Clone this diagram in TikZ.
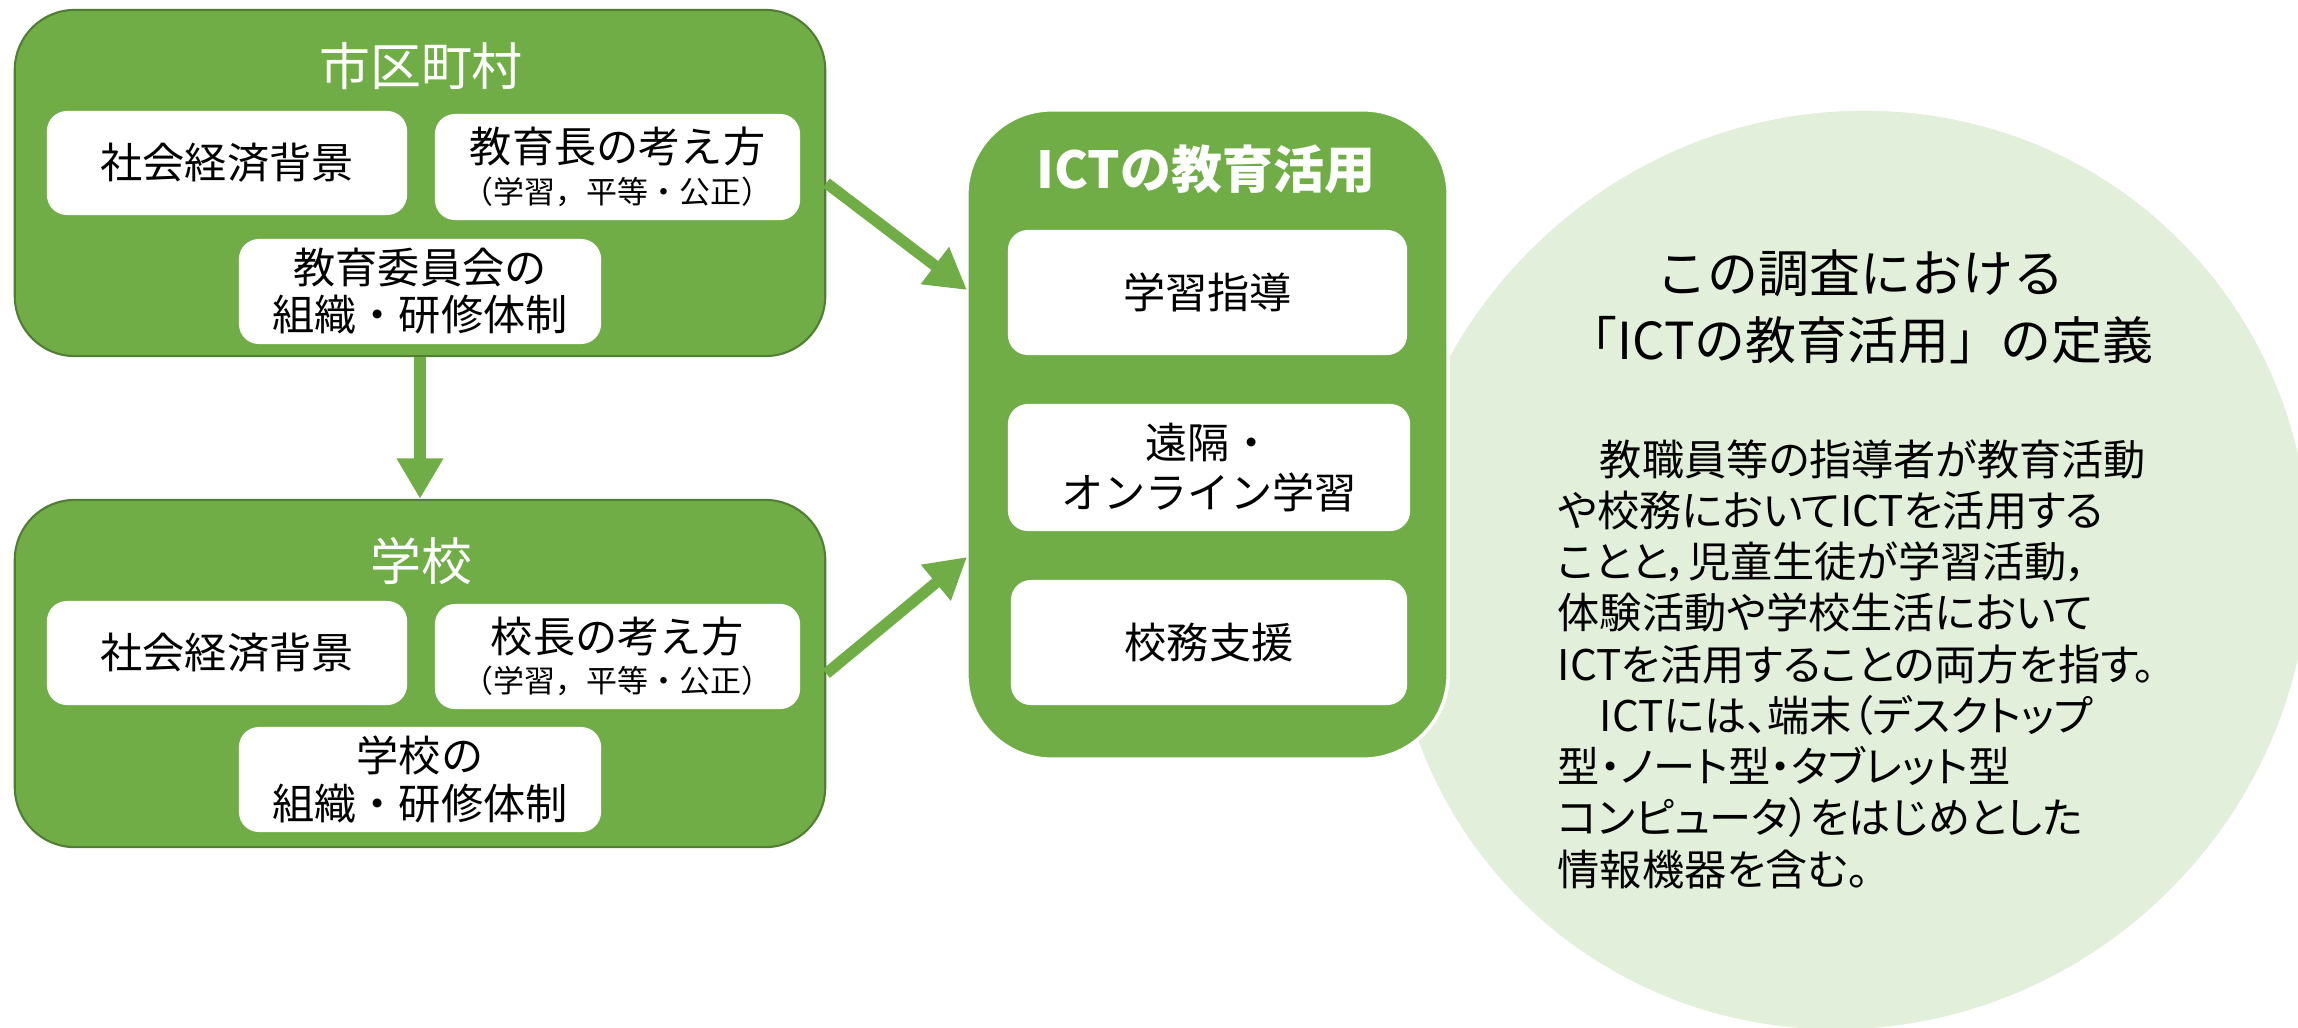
\documentclass[tikz,border=0pt]{standalone}
\usepackage{fontspec}
\setmainfont{Noto Sans CJK JP}
\newfontfamily\mypaltfont{Noto Sans CJK JP}[RawFeature=+palt]
\usetikzlibrary{arrows.meta}
\definecolor{ggreen}{HTML}{70AD47}
\definecolor{gborder}{HTML}{507E32}
\definecolor{ellfill}{HTML}{E2EFDA}
\newcommand\myboxfont{\fontsize{12pt}{13.5pt}\selectfont}
\newcommand\mytitlefont{\fontsize{14.5pt}{17pt}\selectfont}
\newcommand\myparenfont{\fontsize{8.8pt}{11pt}\selectfont}
\tikzset{
  outerbox/.style={draw=gborder, line width=0.6pt, fill=ggreen, rounded corners=0.6cm, inner sep=0pt},
  ictbox/.style={draw=white, line width=1pt, fill=ggreen, rounded corners=0.85cm, inner sep=0pt},
  whitebox/.style={fill=white, rounded corners=0.2cm, inner sep=0pt, align=center, font=\myboxfont},
  titletext/.style={text=white, font=\mytitlefont, inner sep=0pt},
  bigarrow/.style={draw=ggreen, line width=3.2pt, -{Triangle[length=11.5pt,width=12.5pt]}},
}
\begin{document}
\begin{tikzpicture}[x=0.01cm, y=-0.01cm]
\useasboundingbox (0,0) rectangle (2298,1027);
% background ellipse
\begin{scope}
  \clip (0,0) rectangle (2298,1027);
  \begin{scope}[shift={(1850,570)}]
    \fill[ellfill, rotate=45] (0,0) ellipse [x radius=4.66cm, y radius=4.52cm];
  \end{scope}
\end{scope}
% city level
\node[outerbox, minimum width=8.10cm, minimum height=3.46cm] (city) at (420,183) {};
\node[titletext] (cityt) at (421,66) {市区町村};
\node[whitebox, minimum width=3.60cm, minimum height=1.04cm] (csoc) at (227,163) {社会経済背景};
\node[whitebox, minimum width=3.65cm, minimum height=1.06cm, font={\fontsize{12pt}{11.5pt}\selectfont}] (csup) at (617.5,167) {教育長の考え方\\{\myparenfont （学習，平等・公正）}};
\node[whitebox, minimum width=3.62cm, minimum height=1.05cm, font={\fontsize{12pt}{13.4pt}\selectfont}] (corg) at (420,291.5) {教育委員会の\\組織・研修体制};
% school level
\node[outerbox, minimum width=8.10cm, minimum height=3.47cm] (school) at (420,673.5) {};
\node[titletext] (schoolt) at (421,561) {学校};
\node[whitebox, minimum width=3.60cm, minimum height=1.04cm] (ssoc) at (227,653) {社会経済背景};
\node[whitebox, minimum width=3.65cm, minimum height=1.05cm, font={\fontsize{12pt}{11.5pt}\selectfont}] (sprin) at (617.5,656.5) {校長の考え方\\{\myparenfont （学習，平等・公正）}};
\node[whitebox, minimum width=3.62cm, minimum height=1.05cm, font={\fontsize{12pt}{13.7pt}\selectfont}] (sorg) at (420,779.5) {学校の\\組織・研修体制};
% ICT box
\node[ictbox, minimum width=4.81cm, minimum height=6.49cm] (ict) at (1207.5,434.5) {};
\node[titletext, font={\mytitlefont\bfseries}] (ictt) at (1206,169) {ICTの教育活用};
\node[whitebox, minimum width=3.99cm, minimum height=1.25cm] (i1) at (1207.5,292.5) {学習指導};
\node[whitebox, minimum width=4.02cm, minimum height=1.27cm, font={\fontsize{12pt}{14.2pt}\selectfont}] (i2) at (1209,467.5) {遠隔・\\オンライン学習};
\node[whitebox, minimum width=3.96cm, minimum height=1.25cm] (i3) at (1209,642.5) {校務支援};
% definition text
\node[inner sep=0pt, align=center, font={\fontsize{14.5pt}{19pt}\selectfont}] (deft) at (1860,306.5) {この調査における\\「ICTの教育活用」の定義};
\node[inner sep=0pt, align=left, anchor=base west, font={\mypaltfont\fontsize{12pt}{14.57pt}\selectfont}] (defb) at (1557,885) {%
　教職員等の指導者が教育活動\\
や校務においてICTを活用する\\
ことと，児童生徒が学習活動，\\
体験活動や学校生活において\\
ICTを活用することの両方を指す。\\
　ICTには、端末（デスクトップ\\
型・ノート型・タブレット型\\
コンピュータ）をはじめとした\\
情報機器を含む。};
% arrows
\coordinate (ictin1) at (967,290);
\coordinate (ictin2) at (967,557);
\draw[bigarrow] (city.south) -- (school.north);
\draw[bigarrow] (city.east) -- (ictin1);
\draw[bigarrow] (school.east) -- (ictin2);
\end{tikzpicture}
\end{document}
